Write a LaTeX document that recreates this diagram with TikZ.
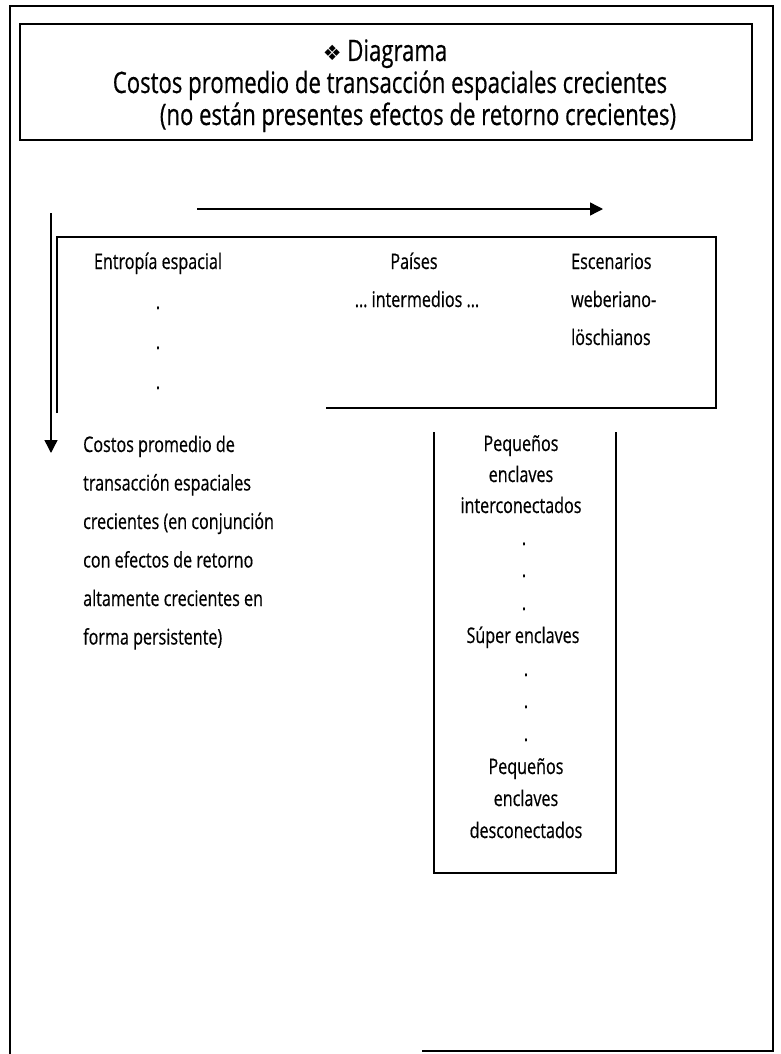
\documentclass[tikz,border=0pt]{standalone}
\usepackage{fontspec}
\setmainfont{Open Sans}[FakeStretch=0.75, FakeBold=0.5]
\newfontfamily\symfont{DejaVu Sans}
\usetikzlibrary{arrows.meta}
\begin{document}
\begin{tikzpicture}[x=1pt,y=-1pt,
  frame/.style={line width=1.1pt},
  boxline/.style={line width=1.4pt},
  arr/.style={line width=1.4pt,-{Triangle[length=13pt,width=13pt]}},
  body/.style={font=\fontsize{21.5}{26}\selectfont, inner sep=0pt},
  head/.style={font=\fontsize{29.5}{34}\selectfont, inner sep=0pt},
  ]
\useasboundingbox (0,0) rectangle (780,1054);
% outer frame
\draw[frame] (422,1051) -- (773,1051) -- (773,6) -- (10,6) -- (10,1054);
% header
\draw[boxline] (20,24) rectangle (752,140);
\node[head, anchor=base] (t1) at (385,61) {{\symfont\fontsize{21}{22}\selectfont ❖} Diagrama};
\node[head, anchor=base] (t2) at (390,93) {Costos promedio de transacción espaciales crecientes};
\node[head, anchor=base] (t3) at (418,125) {(no están presentes efectos de retorno crecientes)};
% arrows
\coordinate (h1) at (197,209);
\coordinate (h2) at (603,209);
\draw[arr] (h1) -- (h2);
\coordinate (v1) at (51,213);
\coordinate (v2) at (51,453);
\draw[arr] (v1) -- (v2);
% middle box
\draw[boxline] (57,413) -- (57,237) -- (716,237) -- (716,408) -- (326,408);
\node[body, anchor=base] (ent) at (158,269) {Entropía espacial};
\node[body, anchor=base] (d1) at (158,309) {.};
\node[body, anchor=base] (d2) at (158,349) {.};
\node[body, anchor=base] (d3) at (158,389) {.};
\node[body, anchor=base] (pai) at (414,269) {Países};
\node[body, anchor=base] (int) at (417,307) {\dots\ intermedios \dots};
\node[body, anchor=base west] (esc) at (571,269) {Escenarios};
\node[body, anchor=base west] (web) at (571,307) {weberiano-};
\node[body, anchor=base west] (los) at (571,345) {löschianos};
% left text
\node[body, anchor=base west] (l1) at (83,452) {Costos promedio de};
\node[body, anchor=base west] (l2) at (83,490.5) {transacción espaciales};
\node[body, anchor=base west] (l3) at (83,529) {crecientes (en conjunción};
\node[body, anchor=base west] (l4) at (83,567.5) {con efectos de retorno};
\node[body, anchor=base west] (l5) at (83,606) {altamente crecientes en};
\node[body, anchor=base west] (l6) at (83,644.5) {forma persistente)};
% right column
\draw[boxline] (434,432) -- (434,873) -- (616,873) -- (616,432);
\node[body, anchor=base] (r1) at (521,451) {Pequeños};
\node[body, anchor=base] (r2) at (521,482) {enclaves};
\node[body, anchor=base] (r3) at (521,513) {interconectados};
\node[body, anchor=base] (r4) at (524,545) {.};
\node[body, anchor=base] (r5) at (524,577) {.};
\node[body, anchor=base] (r6) at (524,610) {.};
\node[body, anchor=base] (r7) at (523,643) {Súper enclaves};
\node[body, anchor=base] (r8) at (526,676) {.};
\node[body, anchor=base] (r9) at (526,708) {.};
\node[body, anchor=base] (r10) at (526,741) {.};
\node[body, anchor=base] (r11) at (526,774) {Pequeños};
\node[body, anchor=base] (r12) at (526,806) {enclaves};
\node[body, anchor=base] (r13) at (526,838) {desconectados};
\end{tikzpicture}
\end{document}
